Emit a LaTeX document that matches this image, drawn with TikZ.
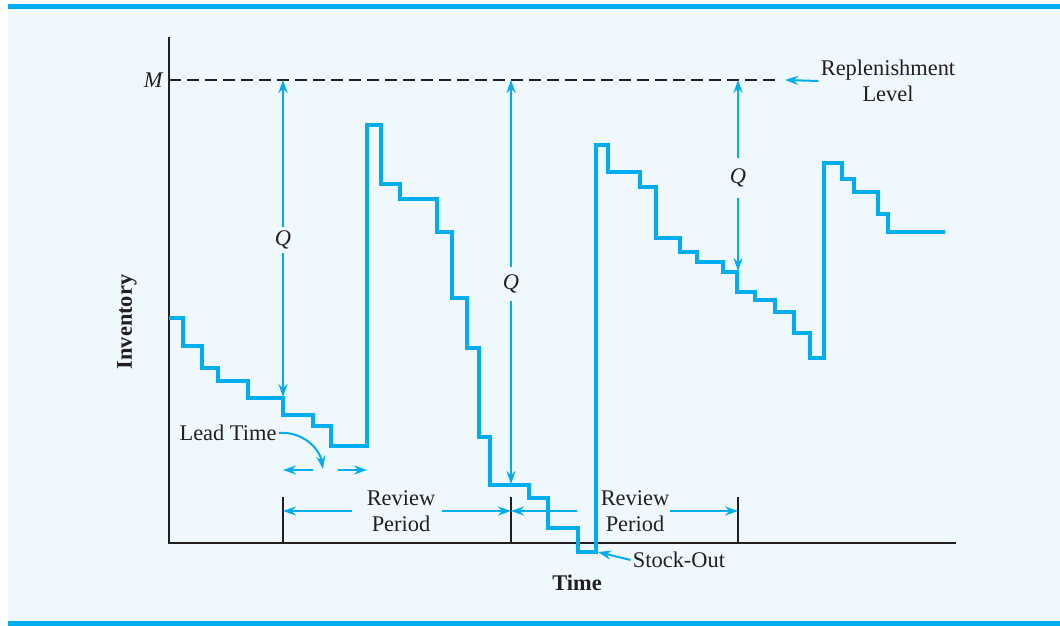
\documentclass[tikz,border=0pt]{standalone}
\usepackage{fontspec}
\setmainfont{Liberation Serif}
\usepackage{xcolor}
\usetikzlibrary{arrows.meta}
\definecolor{invblue}{HTML}{00AEEF}
\definecolor{panel}{HTML}{EEF8FD}
\definecolor{ink}{HTML}{231F20}

\begin{document}
\begin{tikzpicture}[x=0.5pt,y=-0.5pt,
    lbl/.style={font=\fontsize{11.2}{13}\selectfont, text=ink, inner sep=1pt, align=center},
    qlbl/.style={lbl, font=\fontsize{11.2}{13}\selectfont\itshape},
    dim/.style={draw=invblue, line width=1pt, -{Stealth[length=6.5pt,width=4.5pt]}},
    stock/.style={draw=invblue, line width=2.2pt},
    tick/.style={draw=ink, line width=1.4pt}]
    \useasboundingbox (0,0) rectangle (1060,626);

    % Fond et bandes
    \fill[panel] (8,9) rectangle (1060,621);
    \fill[invblue] (8,4) rectangle (1060,9);
    \fill[invblue] (8,621) rectangle (1060,626);

    % Axes
    \draw[ink, line width=1pt] (169,37) -- (169,543) -- (956,543);
    \node[lbl, font=\fontsize{11.2}{13}\selectfont\bfseries, rotate=90] (inv) at (127,322) {Inventory};
    \node[lbl, font=\fontsize{11.2}{13}\selectfont\bfseries] (time) at (577,583) {Time};

    % Niveau de reapprovisionnement
    \node[qlbl, anchor=east] (mlab) at (165,80) {M};
    \draw[ink, line width=1.2pt, dash pattern=on 6pt off 3pt] (169,80) -- (780,80);
    \node[lbl] (rep) at (888,81) {Replenishment\\Level};
    \coordinate (reptip) at (785,80);
    \draw[dim] (rep.west) -- (reptip);

    % Niveau du stock
    \draw[stock] (169,318) -| (183,346) -| (202,368) -| (218,381) -| (248,398)
        -| (283,415) -| (313,426) -| (331,446) -| (367,125) -| (381,184)
        -| (400,199) -| (437,232) -| (452,298) -| (467,348) -| (479,437)
        -| (490,485) -| (529,498) -| (548,528) -| (578,552) -| (596,145)
        -| (608,172) -| (640,187) -| (656,238) -| (680,252) -| (697,262)
        -| (723,272) -| (737,292) -| (755,300) -| (775,312) -| (794,333)
        -| (810,358) -| (824,163) -| (842,179) -| (854,192) -| (878,214)
        -| (888,232) -- (945,232);

    % Quantites commandees
    \node[qlbl, inner ysep=1.5pt] (q1) at (283,240) {Q};
    \node[qlbl, inner ysep=3.5pt] (q2) at (511,284) {Q};
    \node[qlbl, inner ysep=5pt] (q3) at (738,178) {Q};
    \coordinate (m1) at (283,80);
    \coordinate (m2) at (511,80);
    \coordinate (m3) at (738,80);
    \coordinate (b1) at (283,397);
    \coordinate (b2) at (511,484);
    \coordinate (b3) at (738,271);
    \foreach \i in {1,2,3} {
        \draw[dim] (q\i) -- (m\i);
        \draw[dim] (q\i) -- (b\i);
    }

    % Delai de livraison
    \node[lbl] (lead) at (228,433) {Lead Time};
    \coordinate (leadtip) at (323,469);
    \draw[dim] (lead.east) to[out=5, in=100] (leadtip);
    \coordinate (ltl) at (313,470);
    \coordinate (ltl0) at (283,470);
    \coordinate (ltr) at (338,470);
    \coordinate (ltr0) at (367,470);
    \draw[dim] (ltl) -- (ltl0);
    \draw[dim] (ltr) -- (ltr0);

    % Periodes de revision
    \foreach \x [count=\k] in {283,511,738} {
        \coordinate (t\k) at (\x,497);
        \draw[tick] (t\k) -- (\x,543);
    }
    \node[lbl] (rev1) at (401,511) {Review\\Period};
    \node[lbl] (rev2) at (635,511) {Review\\Period};
    \coordinate (r1l) at (352,511);
    \coordinate (r1r) at (442,511);
    \coordinate (r2l) at (577,511);
    \coordinate (r2r) at (670,511);
    \draw[dim] (r1l) -- (t1 |- r1l);
    \draw[dim] (r1r) -- (t2 |- r1r);
    \draw[dim] (r2l) -- (t2 |- r2l);
    \draw[dim] (r2r) -- (t3 |- r2r);

    % Rupture
    \node[lbl] (so) at (679,560) {Stock-Out};
    \coordinate (sotip) at (598,552);
    \draw[dim] (so.west) -- (sotip);
\end{tikzpicture}
\end{document}
